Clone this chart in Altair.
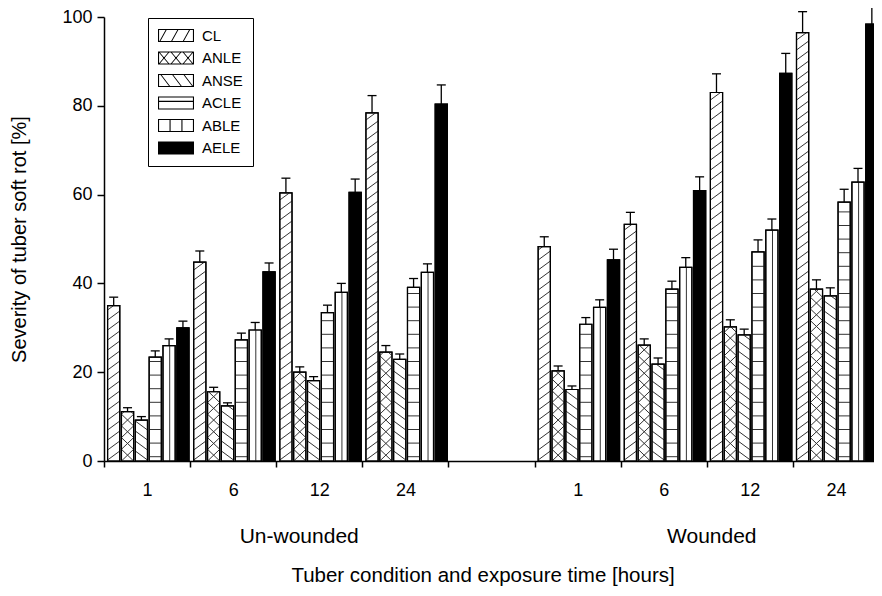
import json
import altair as alt
import pandas as pd

# ---------------- data ----------------
SERIES = ["CL", "ANLE", "ANSE", "ACLE", "ABLE", "AELE"]
TIMES = ["1", "6", "12", "24"]
CONDITIONS = ["Un-wounded", "Wounded"]

# severity of tuber soft rot (%) for exposure times 1, 6, 12, 24 h
UNWOUNDED_MEAN = {
    "CL":   [35.0, 44.8, 60.4, 78.4],
    "ANLE": [11.1, 15.6, 20.0, 24.5],
    "ANSE": [9.2, 12.4, 18.1, 22.9],
    "ACLE": [23.4, 27.3, 33.4, 39.1],
    "ABLE": [26.0, 29.5, 38.0, 42.5],
    "AELE": [30.0, 42.6, 60.5, 80.4],
}
UNWOUNDED_ERR = {
    "CL":   [1.9, 2.5, 3.3, 3.9],
    "ANLE": [0.9, 1.0, 1.2, 1.5],
    "ANSE": [0.8, 0.7, 0.9, 1.2],
    "ACLE": [1.4, 1.5, 1.7, 2.0],
    "ABLE": [1.5, 1.7, 2.0, 1.9],
    "AELE": [1.5, 2.0, 3.0, 4.3],
}
WOUNDED_MEAN = {
    "CL":   [48.3, 53.3, 83.0, 96.5],
    "ANLE": [20.3, 26.1, 30.2, 38.7],
    "ANSE": [16.1, 21.8, 28.4, 37.2],
    "ACLE": [30.8, 38.7, 47.1, 58.3],
    "ABLE": [34.6, 43.6, 52.0, 62.8],
    "AELE": [45.3, 60.9, 87.3, 98.4],
}
WOUNDED_ERR = {
    "CL":   [2.2, 2.7, 4.2, 4.7],
    "ANLE": [1.1, 1.4, 1.6, 2.1],
    "ANSE": [0.8, 1.4, 1.3, 1.8],
    "ACLE": [1.5, 1.8, 2.7, 2.9],
    "ABLE": [1.7, 2.2, 2.5, 3.1],
    "AELE": [2.4, 3.1, 4.5, 5.1],
}

X_TITLE = "Tuber condition and exposure time [hours]"
Y_TITLE = "Severity of tuber soft rot [%]"

rows = []
for cond, means, errs in [(CONDITIONS[0], UNWOUNDED_MEAN, UNWOUNDED_ERR),
                          (CONDITIONS[1], WOUNDED_MEAN, WOUNDED_ERR)]:
    for s in SERIES:
        for t, v, e in zip(TIMES, means[s], errs[s]):
            rows.append(dict(condition=cond, time=t, series=s, value=v, err=e))
df = pd.DataFrame(rows)
cond_df = pd.DataFrame({"condition": CONDITIONS})

# ---------------- layout / style ----------------
FONT = "Liberation Sans"
W, H = 770, 444
SLOTS = len(SERIES)
GAP = 1
NGROUPS = 2 * len(TIMES) + GAP
XMAX = NGROUPS * SLOTS - 0.35          # last group runs past the right edge
PAD, PITCH, BARW = 0.25, 0.965, 0.85
PX_Y = H / 100.0
PX_X = W / XMAX
CAP = 4.5 / PX_X
HATCH = "#333333"
LABELS = TIMES + [""] + TIMES + [""]

T = json.dumps(TIMES)
S = json.dumps(SERIES)
C = json.dumps(CONDITIONS)

xscale = alt.Scale(domain=[0, XMAX], nice=False, zero=False)
yscale = alt.Scale(domain=[0, 100], nice=False)


# ---- legend swatches drawn as filled outlines (custom symbol paths) ----
HY = 0.36      # half height of swatch in symbol units (swatch 36 x 13 px)
LW = 0.06      # line thickness in symbol units


def poly(pts):
    area = 0.0
    for (x1, y1), (x2, y2) in zip(pts, pts[1:] + pts[:1]):
        area += x1 * y2 - x2 * y1
    if area < 0:
        pts = pts[::-1]
    return "M" + "L".join(f"{x:.3f},{y:.3f}" for x, y in pts) + "Z"


def frame():
    outer = poly([(-1, -HY), (1, -HY), (1, HY), (-1, HY)])
    inner_pts = [(-1 + LW, -HY + LW), (-1 + LW, HY - LW), (1 - LW, HY - LW), (1 - LW, -HY + LW)]
    return outer + "M" + "L".join(f"{x:.3f},{y:.3f}" for x, y in inner_pts) + "Z"


def seg(xa, ya, xb, yb):
    if abs(ya - yb) < 1e-9:   # horizontal
        return poly([(xa, ya), (xb, yb), (xb, yb + LW), (xa, ya + LW)])
    return poly([(xa, ya), (xa + LW, ya), (xb + LW, yb), (xb, yb)])


SHAPES = [
    frame() + "".join(seg(x, HY, x + 0.4, -HY) for x in (-0.95, -0.3, 0.35)),
    frame() + "".join(seg(-1 + k * 0.667, HY, -1 + (k + 1) * 0.667 - LW, -HY) for k in range(3))
            + "".join(seg(-1 + k * 0.667, -HY, -1 + (k + 1) * 0.667 - LW, HY) for k in range(3)),
    frame() + "".join(seg(x, -HY, x + 0.55, HY) for x in (-0.9, -0.25, 0.38)),
    frame() + seg(-1, -0.12, 1, -0.12),
    frame() + seg(-0.36, -HY, -0.36, HY) + seg(0.30, -HY, 0.30, HY),
    poly([(-1, -HY), (1, -HY), (1, HY), (-1, HY)]),
]
shapescale = alt.Scale(domain=SERIES, range=SHAPES)

LEG = dict(title=None, orient="none", legendX=44, legendY=1,
           strokeColor="black", fillColor="white", padding=10,
           labelFont=FONT, labelFontSize=15, labelColor="black", labelOffset=8,
           rowPadding=6.5, clipHeight=15, symbolSize=1296,
           symbolFillColor="black", symbolStrokeWidth=0, symbolOpacity=1,
           labelLimit=200)

xaxis = alt.Axis(
    values=list(range(0, NGROUPS * SLOTS, SLOTS)),
    labelExpr=f"{json.dumps(LABELS)}[round(datum.value/{SLOTS})]",
    labelOffset=PX_X * SLOTS / 2, labelFlush=False, labelOverlap=False,
    tickSize=6, labelPadding=14, labelFontSize=18, titleFontSize=20.5,
    titlePadding=66, grid=False, domainColor="black", tickColor="black",
    domainWidth=1.5, tickWidth=1.5, labelFont=FONT, titleFont=FONT,
    titleFontWeight="normal", labelColor="black", titleColor="black",
    titleX=(NGROUPS * SLOTS / 2) * PX_X - 9,
)
yaxis = alt.Axis(
    values=[0, 20, 40, 60, 80, 100], tickSize=7, labelPadding=5,
    labelFontSize=18, titleFontSize=20, titlePadding=32, grid=False,
    domainColor="black", tickColor="black", domainWidth=1.5, tickWidth=1.5,
    labelFont=FONT, titleFont=FONT, titleFontWeight="normal",
    labelColor="black", titleColor="black",
)


def X(field):
    return alt.X(field, scale=xscale, axis=xaxis, title=X_TITLE)


def Y(field):
    return alt.Y(field, scale=yscale, axis=yaxis, title=Y_TITLE)


base = alt.Chart(df).transform_calculate(
    gi=f"(datum.condition == '{CONDITIONS[1]}' ? {len(TIMES) + GAP} : 0) + indexof({T}, datum.time)",
    si=f"indexof({S}, datum.series)",
).transform_calculate(
    x0=f"datum.gi*{SLOTS} + {PAD} + datum.si*{PITCH}",
).transform_calculate(
    x1=f"datum.x0 + {BARW}",
    xc=f"datum.x0 + {BARW / 2}",
    top="datum.value + datum.err",
)

bars = base.mark_rect(stroke="black", strokeWidth=1.2, opacity=1).encode(
    x=X("x0:Q"), x2="x1:Q", y=Y("value:Q"), y2=alt.datum(0),
    fill=alt.condition(alt.FieldEqualPredicate(field="series", equal=SERIES[-1]),
                       alt.value("black"), alt.value("white")),
)


def diagonal(names, spacing_px, rise_px, up=True):
    s = spacing_px / PX_Y
    r = rise_px / PX_Y
    c = base.transform_filter(
        alt.FieldOneOfPredicate(field="series", oneOf=names)
    ).transform_calculate(
        hs=f"sequence({-r}, datum.value, {s})"
    ).transform_flatten(["hs"]).transform_calculate(
        ya="max(datum.hs, 0)", yb=f"min(datum.hs + {r}, datum.value)"
    ).transform_filter("datum.yb > datum.ya + 0.02")
    if up:
        c = c.transform_calculate(
            xa=f"datum.x0 + (datum.ya - datum.hs)/{r}*{BARW}",
            xb=f"datum.x0 + (datum.yb - datum.hs)/{r}*{BARW}",
        )
    else:
        c = c.transform_calculate(
            xa=f"datum.x0 + (datum.hs + {r} - datum.ya)/{r}*{BARW}",
            xb=f"datum.x0 + (datum.hs + {r} - datum.yb)/{r}*{BARW}",
        )
    return c.mark_rule(color=HATCH, strokeWidth=1).encode(
        x=X("xa:Q"), x2="xb:Q", y=Y("ya:Q"), y2="yb:Q"
    )


cl_hatch = diagonal(["CL"], 10, 9, up=True)
anse_hatch = diagonal(["ANSE"], 10, 9, up=False)
anle_a = diagonal(["ANLE"], 11.7, 11.7, up=True)
anle_b = diagonal(["ANLE"], 11.7, 11.7, up=False)

acle_hatch = base.transform_filter(
    alt.FieldEqualPredicate(field="series", equal="ACLE")
).transform_calculate(
    hs=f"sequence({4.3 / PX_Y}, datum.value - 0.5, {13.6 / PX_Y})"
).transform_flatten(["hs"]).mark_rule(color=HATCH, strokeWidth=1).encode(
    x=X("x0:Q"), x2="x1:Q", y=Y("hs:Q")
)

able_hatch = base.transform_filter(
    alt.FieldEqualPredicate(field="series", equal="ABLE")
).transform_calculate(
    xv=f"datum.x0 + {0.55 * BARW}"
).mark_rule(color=HATCH, strokeWidth=1).encode(
    x=X("xv:Q"), y=Y("value:Q"), y2=alt.datum(0)
)

outline = base.mark_rect(fillOpacity=0, stroke="black", strokeWidth=1.2).encode(
    x=X("x0:Q"), x2="x1:Q", y=Y("value:Q"), y2=alt.datum(0)
)

err_line = base.mark_rule(color="black", strokeWidth=1.3).encode(
    x=X("xc:Q"), y=Y("value:Q"), y2="top:Q"
)
err_cap = base.transform_calculate(
    ca=f"datum.xc - {CAP}", cb=f"datum.xc + {CAP}"
).mark_rule(color="black", strokeWidth=1.3).encode(
    x=X("ca:Q"), x2="cb:Q", y=Y("top:Q")
)

legend_pts = base.transform_filter("datum.value < 0").mark_point(
    filled=True, fill="black", opacity=1, strokeWidth=0
).encode(
    x=X("x0:Q"), y=Y("value:Q"),
    shape=alt.Shape("series:N", scale=shapescale, legend=alt.Legend(**LEG)),
)

glabel = alt.Chart(cond_df).transform_calculate(
    gx=f"(indexof({C}, datum.condition)*{len(TIMES) + GAP} + {len(TIMES) / 2})*{SLOTS}"
)
lab_u = glabel.transform_filter(f"datum.condition == '{CONDITIONS[0]}'").mark_text(
    dx=23, font=FONT, fontSize=21, baseline="middle", color="black"
).encode(x=X("gx:Q"), y=alt.value(520), text="condition:N")
lab_w = glabel.transform_filter(f"datum.condition == '{CONDITIONS[1]}'").mark_text(
    dx=5, font=FONT, fontSize=21, baseline="middle", color="black"
).encode(x=X("gx:Q"), y=alt.value(520), text="condition:N")

chart = alt.layer(
    bars, cl_hatch, anse_hatch, anle_a, anle_b, acle_hatch, able_hatch,
    outline, err_line, err_cap, legend_pts, lab_u, lab_w,
).properties(
    width=W, height=H,
    padding={"left": 96, "top": 9, "right": 0, "bottom": 127},
    autosize=alt.AutoSizeParams(type="none"),
).configure_view(stroke=None)

chart.save("out.html", embed_options={"renderer": "svg", "actions": False})
